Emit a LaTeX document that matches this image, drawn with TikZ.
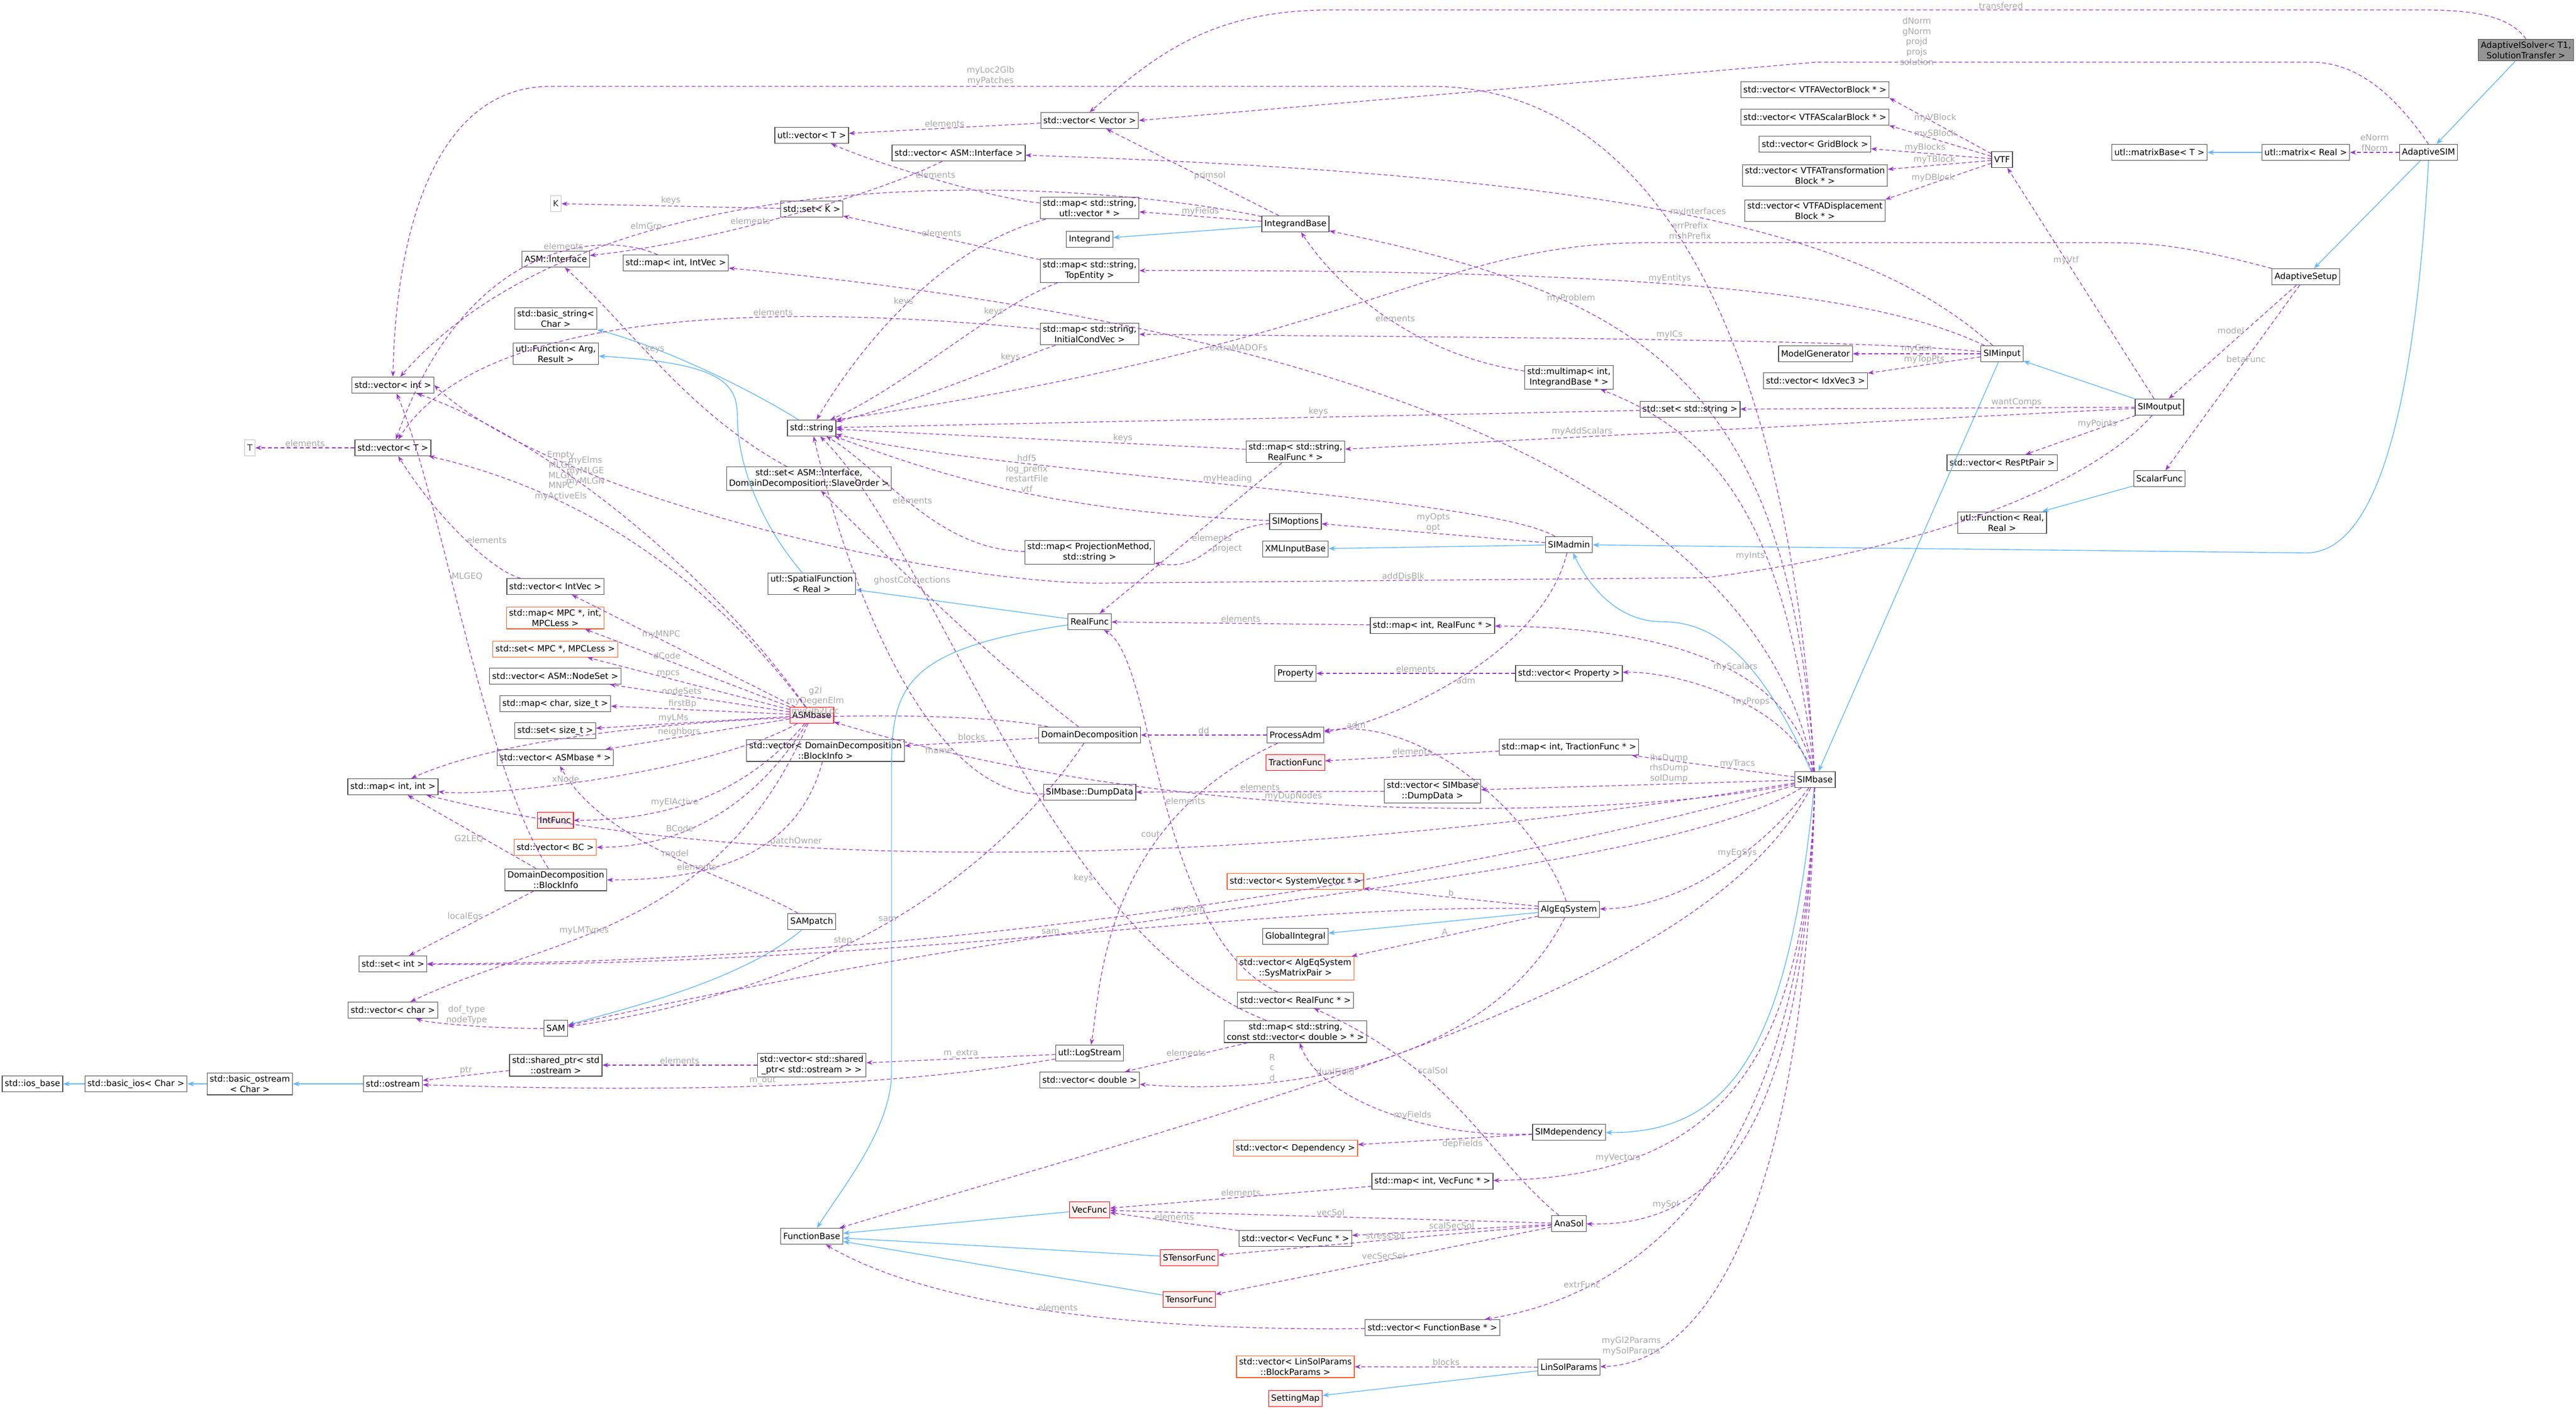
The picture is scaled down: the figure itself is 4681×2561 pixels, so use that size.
\documentclass[tikz,border=0pt]{standalone}
\usepackage{fontspec}
\setmainfont{DejaVu Sans}
\usetikzlibrary{arrows.meta}
\definecolor{mc}{HTML}{9A32CD}
\definecolor{ic}{HTML}{63B8FF}
\definecolor{lc}{HTML}{A8A8A8}
\definecolor{oc}{HTML}{FF5A1F}
\begin{document}
\begin{tikzpicture}[x=0.01cm,y=-0.01cm,
  every node/.style={font=\fontsize{4.4pt}{5.3pt}\selectfont},
  b/.style={draw=black!70,fill=white,line width=0.35pt,inner sep=1.3pt,minimum height=0.29cm,align=center},
  r/.style={b,draw=red,fill=red!6},
  o/.style={b,draw=oc},
  g/.style={b,draw=black!25,text=black!80},
  top/.style={b,fill=black!42},
  lab/.style={text=lc,align=center,inner sep=0.5pt,fill=none,draw=none},
  mem/.style={draw=mc,dashed,dash pattern=on 2pt off 1.3pt,line width=0.35pt,-{Stealth[length=0.11cm,width=0.08cm]}},
  inh/.style={draw=ic,line width=0.4pt,-{Stealth[length=0.12cm,width=0.09cm]}}]
\useasboundingbox (0,0) rectangle (4681,2561);
% ---------------- nodes ----------------
\node[top] (ais) at (4590,91) {AdaptiveISolver< T1,\\ SolutionTransfer >};
\node[b] (asim) at (4413,277) {AdaptiveSIM};
\node[b] (mat) at (4190,277) {utl::matrix< Real >};
\node[b] (matb) at (3924,277) {utl::matrixBase< T >};
\node[b] (aset) at (4190,503) {AdaptiveSetup};
\node[b] (vtf) at (3638,290) {VTF};
\node[b] (vvb) at (3298,163) {std::vector< VTFAVectorBlock * >};
\node[b] (vsb) at (3298,213) {std::vector< VTFAScalarBlock * >};
\node[b] (vgb) at (3298,262) {std::vector< GridBlock >};
\node[b] (vtb) at (3298,319) {std::vector< VTFATransformation\\ Block * >};
\node[b] (vdb) at (3298,383) {std::vector< VTFADisplacement\\ Block * >};
\node[b] (mgen) at (3299,643) {ModelGenerator};
\node[b] (simin) at (3638,643) {SIMinput};
\node[b] (vidx) at (3299,692) {std::vector< IdxVec3 >};
\node[b] (simout) at (3924,740) {SIMoutput};
\node[b] (vrpp) at (3638,841) {std::vector< ResPtPair >};
\node[b] (sfun) at (3924,870) {ScalarFunc};
\node[b] (frr) at (3638,950) {utl::Function< Real,\\ Real >};
\node[b] (simbase) at (3298,1417) {SIMbase};
\node[b] (simadm) at (2851,990) {SIMadmin};
\node[b] (xml) at (2354,998) {XMLInputBase};
\node[b] (simopt) at (2354,948) {SIMoptions};
\node[b] (mpm) at (1980,1004) {std::map< ProjectionMethod,\\ std::string >};
\node[b] (sdep) at (2851,2058) {SIMdependency};
\node[o] (vdep) at (2354,2087) {std::vector< Dependency >};
\node[b] (asol) at (2851,2224) {AnaSol};
\node[b] (lsp) at (2851,2485) {LinSolParams};
\node[o] (vbp) at (2354,2484) {std::vector< LinSolParams\\ ::BlockParams >};
\node[r] (smap) at (2354,2542) {SettingMap};
\node[b] (vfb) at (2603,2413) {std::vector< FunctionBase * >};
\node[b] (mvf) at (2603,2147) {std::map< int, VecFunc * >};
\node[b] (vvf) at (2354,2251) {std::vector< VecFunc * >};
\node[r] (vecf) at (1980,2199) {VecFunc};
\node[r] (stf) at (2161,2286) {STensorFunc};
\node[r] (tf) at (2161,2362) {TensorFunc};
\node[b] (fb) at (1475,2247) {FunctionBase};
\node[b] (vrf) at (2354,1818) {std::vector< RealFunc * >};
\node[b] (mscv) at (2354,1875) {std::map< std::string,\\ const std::vector< double > * >};
\node[b] (vdbl) at (1980,1963) {std::vector< double >};
\node[b] (logs) at (1980,1914) {utl::LogStream};
\node[b] (aeq) at (2851,1653) {AlgEqSystem};
\node[o] (vsv) at (2354,1602) {std::vector< SystemVector * >};
\node[b] (gi) at (2354,1702) {GlobalIntegral};
\node[o] (vsmp) at (2354,1760) {std::vector< AlgEqSystem\\ ::SysMatrixPair >};
\node[b] (mtf) at (2851,1358) {std::map< int, TractionFunc * >};
\node[r] (tfun) at (2354,1386) {TractionFunc};
\node[b] (vdd) at (2603,1438) {std::vector< SIMbase\\ ::DumpData >};
\node[b] (dump) at (1980,1440) {SIMbase::DumpData};
\node[b] (domd) at (1980,1336) {DomainDecomposition};
\node[b] (padm) at (2354,1336) {ProcessAdm};
\node[b] (vprop) at (2851,1224) {std::vector< Property >};
\node[b] (prop) at (2354,1224) {Property};
\node[b] (mirf) at (2603,1137) {std::map< int, RealFunc * >};
\node[b] (rf) at (1980,1130) {RealFunc};
\node[b] (msrf) at (2354,821) {std::map< std::string,\\ RealFunc * >};
\node[b] (sstr) at (3071,744) {std::set< std::string >};
\node[b] (mmib) at (2851,686) {std::multimap< int,\\ IntegrandBase * >};
\node[b] (mici) at (1980,607) {std::map< std::string,\\ InitialCondVec >};
\node[b] (mste) at (1980,492) {std::map< std::string,\\ TopEntity >};
\node[b] (integ) at (1980,435) {Integrand};
\node[b] (ib) at (2354,407) {IntegrandBase};
\node[b] (msuv) at (1980,378) {std::map< std::string,\\ utl::vector * >};
\node[b] (vai) at (1742,278) {std::vector< ASM::Interface >};
\node[b] (vvec) at (1980,219) {std::vector< Vector >};
\node[b] (uvt) at (1475,246) {utl::vector< T >};
\node[b] (setk) at (1475,380) {std::set< K >};
\node[g] (K) at (1010,370) {K};
\node[b] (asmi) at (1010,471) {ASM::Interface};
\node[b] (mivec) at (1228,478) {std::map< int, IntVec >};
\node[b] (bstr) at (1010,579) {std::basic\_string<\\ Char >};
\node[b] (ufar) at (1010,643) {utl::Function< Arg,\\ Result >};
\node[b] (str) at (1475,778) {std::string};
\node[b] (vint) at (714,700) {std::vector< int >};
\node[g] (T) at (454,814) {T};
\node[b] (vT) at (714,814) {std::vector< T >};
\node[b] (sasi) at (1470,870) {std::set< ASM::Interface,\\ DomainDecomposition::SlaveOrder >};
\node[b] (spf) at (1475,1061) {utl::SpatialFunction\\ < Real >};
\node[b] (vivec) at (1009,1066) {std::vector< IntVec >};
\node[o] (mmpc) at (1009,1123) {std::map< MPC *, int,\\ MPCLess >};
\node[o] (smpc) at (1009,1180) {std::set< MPC *, MPCLess >};
\node[b] (vns) at (1009,1229) {std::vector< ASM::NodeSet >};
\node[b] (mcs) at (1009,1279) {std::map< char, size\_t >};
\node[r] (asmb) at (1475,1300) {ASMbase};
\node[b] (ssz) at (1009,1328) {std::set< size\_t >};
\node[b] (vasm) at (1009,1377) {std::vector< ASMbase * >};
\node[b] (vbi) at (1500,1364) {std::vector< DomainDecomposition\\ ::BlockInfo >};
\node[b] (mii) at (714,1430) {std::map< int, int >};
\node[r] (ifun) at (1009,1491) {IntFunc};
\node[o] (vbc) at (1009,1540) {std::vector< BC >};
\node[b] (bi) at (1010,1599) {DomainDecomposition\\ ::BlockInfo};
\node[b] (samp) at (1475,1675) {SAMpatch};
\node[b] (sint) at (714,1752) {std::set< int >};
\node[b] (vchar) at (714,1836) {std::vector< char >};
\node[b] (sam) at (1010,1869) {SAM};
\node[b] (shp) at (1010,1936) {std::shared\_ptr< std\\ ::ostream >};
\node[b] (vshp) at (1475,1936) {std::vector< std::shared\\ \_ptr< std::ostream > >};
\node[b] (iosb) at (59,1970) {std::ios\_base};
\node[b] (bios) at (247,1970) {std::basic\_ios< Char >};
\node[b] (bos) at (454,1970) {std::basic\_ostream\\ < Char >};
\node[b] (ostr) at (714,1970) {std::ostream};
% ---------------- inheritance ----------------
\draw[inh] (ais) -- (asim);
\draw[inh] (asim) -- (aset);
\draw[inh] (asim.south) .. controls (4390,700) and (4330,1005) .. (4190,1005) -- (simadm);
\draw[inh] (mat) -- (matb);
\draw[inh] (simout) -- (simin);
\draw[inh] (simin) -- (simbase);
\draw[inh] (simbase) .. controls (3200,1200) and (3120,1130) .. (3020,1130) .. controls (2930,1130) and (2880,1050) .. (simadm);
\draw[inh] (simbase) .. controls (3250,1900) and (3150,2060) .. (sdep);
\draw[inh] (simadm) -- (xml);
\draw[inh] (sfun) -- (frr);
\draw[inh] (ib) -- (integ);
\draw[inh] (aeq) -- (gi);
\draw[inh] (lsp) -- (smap);
\draw[inh] (rf) -- (spf);
\draw[inh] (rf) .. controls (1640,1180) and (1620,1250) .. (1620,1400) -- (1620,1950) .. controls (1620,2050) and (1530,2160) .. (fb);
\draw[inh] (spf) .. controls (1380,950) and (1340,840) .. (1340,760) .. controls (1340,700) and (1320,660) .. (ufar);
\draw[inh] (str) .. controls (1350,700) and (1200,630) .. (bstr);
\draw[inh] (samp) .. controls (1350,1780) and (1150,1830) .. (sam);
\draw[inh] (ostr) -- (bos);
\draw[inh] (bos) -- (bios);
\draw[inh] (bios) -- (iosb);
\draw[inh] (vecf) -- (fb);
\draw[inh] (stf) -- (fb);
\draw[inh] (tf) -- (fb);
% ---------------- members ----------------
\draw[mem] (ais.north) .. controls (4560,30) and (4500,18) .. (4400,18) -- (2420,18) .. controls (2200,18) and (2100,100) .. node[lab,pos=0]{} (vvec.north);
\node[lab] at (3636,11) {transfered};
\draw[mem] (asim.north) .. controls (4370,200) and (4300,113) .. (4200,113) -- (3300,113) -- (vvec.east);
\node[lab] at (3483,75) {dNorm\\gNorm\\projd\\projs\\solution};
\draw[mem] (asim) -- node[lab,above]{eNorm\\fNorm} (mat);
\draw[mem] (vtf) -- node[lab,pos=0.55,above]{myVBlock} (vvb.south east);
\draw[mem] (vtf) -- node[lab,pos=0.55,above]{mySBlock} (vsb.south east);
\draw[mem] (vtf) -- node[lab,pos=0.55,above]{myBlocks} (vgb);
\draw[mem] (vtf) -- node[lab,pos=0.55,above]{myTBlock} (vtb);
\draw[mem] (vtf) -- node[lab,pos=0.55,above]{myDBlock} (vdb.north east);
\draw[mem] (simout) -- node[lab,pos=0.6]{myVtf} (vtf);
\draw[mem] (aset) -- node[lab,pos=0.4,left]{model} (simout);
\draw[mem] (aset) -- node[lab,pos=0.4]{betaFunc} (sfun);
\draw[mem] (aset.north west) .. controls (3950,441) and (3900,441) .. (3800,441) -- (3000,441) .. controls (2600,441) and (2500,620) .. (str.north east);
\node[lab] at (3071,419) {errPrefix\\mshPrefix};
\draw[mem] (simin) -- node[lab,above]{myGen} (mgen);
\draw[mem] (simin) -- node[lab,above]{myTopPts} (vidx);
\draw[mem] (simout) -- node[lab,above,pos=0.3]{wantComps} (sstr);
\draw[mem] (simout) -- node[lab,above,pos=0.7]{myAddScalars} (msrf);
\draw[mem] (simout) -- node[lab,above,pos=0.35]{myPoints} (vrpp);
\draw[mem] (simout) .. controls (3800,880) and (3500,1000) .. (3100,1050) -- node[lab,above]{addDisBlk} (2000,1060) .. controls (1700,1060) and (1000,900) .. (vint.east);
\draw[mem] (simin) .. controls (3400,430) and (3000,320) .. node[lab,pos=0.5,above]{myInterfaces} (vai);
\draw[mem] (simin) .. controls (3400,530) and (3000,490) .. node[lab,pos=0.55,above]{myEntitys} (mste);
\draw[mem] (simin) .. controls (3400,620) and (3000,615) .. node[lab,pos=0.55,above]{myICs} (mici);
\draw[mem] (simbase) .. controls (3250,700) and (3000,540) .. node[lab,pos=0.7,above]{myProblem} (ib);
\draw[mem] (simbase) .. controls (3250,1000) and (3150,800) .. node[lab,pos=0.4,left]{myInts} (mmib);
\draw[mem] (simbase) .. controls (3250,1200) and (3000,1140) .. node[lab,pos=0.4,above]{myScalars} (mirf);
\draw[mem] (simbase) .. controls (3250,1280) and (3050,1220) .. node[lab,pos=0.4,above]{myProps} (vprop);
\draw[mem] (simbase) -- node[lab,above,pos=0.35]{myTracs} (mtf);
\draw[mem] (simbase) -- node[lab,above,pos=0.4]{lhsDump\\rhsDump\\solDump} (vdd);
\draw[mem] (simbase) .. controls (3200,1550) and (3050,1650) .. node[lab,pos=0.4,above]{myEqSys} (aeq);
\draw[mem] (simbase) .. controls (3280,1900) and (3150,2140) .. node[lab,pos=0.8,above]{myVectors} (mvf);
\draw[mem] (simbase) .. controls (3280,2000) and (3150,2230) .. node[lab,pos=0.8,above]{mySol} (asol);
\draw[mem] (simbase) .. controls (3280,2100) and (3000,2350) .. node[lab,pos=0.8,above]{extrFunc} (vfb);
\draw[mem] (simbase) .. controls (3280,2200) and (3100,2480) .. node[lab,pos=0.8,left]{myGl2Params\\mySolParams} (lsp);
\draw[mem] (simbase) .. controls (3100,1800) and (2300,2000) .. node[lab,pos=0.6,above]{dualField} (fb);
\draw[mem] (simbase) .. controls (3000,1600) and (2000,1640) .. node[lab,pos=0.6,above]{mySam} (sam);
\draw[mem] (simbase) .. controls (2800,1500) and (1600,1650) .. node[lab,pos=0.75,above]{patchOwner} (mii);
\draw[mem] (simbase) .. controls (2800,1560) and (1800,1750) .. node[lab,pos=0.75,above]{step} (sint);
\draw[mem] (simbase) .. controls (3000,1480) and (2200,1520) .. node[lab,pos=0.6,above]{myDupNodes} (asmb);
\draw[mem] (simbase) .. controls (3250,600) and (3000,157) .. (2600,157) -- node[lab,above]{myLoc2Glb\\myPatches} (1000,157) .. controls (800,157) and (720,400) .. (vint.north);
\draw[mem] (simbase) .. controls (3200,900) and (2500,600) .. node[lab,pos=0.7,above]{extraMADOFs} (mivec);
\draw[mem] (simadm) .. controls (2700,900) and (1800,860) .. node[lab,pos=0.5,above]{myHeading} (str);
\draw[mem] (simadm) -- node[lab,above]{myOpts\\opt} (simopt);
\draw[mem] (simadm) .. controls (2800,1200) and (2500,1320) .. node[lab,pos=0.5,right]{adm} (padm);
\draw[mem] (simopt) .. controls (1900,930) and (1700,860) .. node[lab,pos=0.45,above]{hdf5\\log\_prefix\\restartFile\\vtf} (str);
\draw[mem] (simopt) .. controls (2200,960) and (2200,1040) .. node[lab,pos=0.5,right]{project} (mpm);
\draw[mem] (mpm) .. controls (1700,1000) and (1600,850) .. node[lab,pos=0.5,above]{elements} (str);
\draw[mem] (padm) -- node[lab,above]{dd} (domd);
\draw[mem] (padm) .. controls (2000,1500) and (2000,1800) .. node[lab,pos=0.3,left]{cout} (logs);
\draw[mem] (domd) -- node[lab,above]{blocks} (vbi);
\draw[mem] (domd) .. controls (1800,1200) and (1600,1000) .. node[lab,pos=0.6]{ghostConnections} (sasi);
\draw[mem] (domd) .. controls (1700,1280) and (1000,1300) .. node[lab,pos=0.4,above]{g2l\\myDegenElm\\myGlb2Loc} (mii);
\draw[mem] (domd) .. controls (1800,1600) and (1500,1800) .. node[lab,pos=0.5,above]{sam} (sam);
\draw[mem] (vbi) .. controls (1450,1550) and (1300,1600) .. node[lab,pos=0.7,above]{elements} (bi);
\draw[mem] (bi) -- node[lab,pos=0.4,left]{localEqs} (sint);
\draw[mem] (bi) -- node[lab,pos=0.4,left]{G2LEQ} (mii);
\draw[mem] (bi) .. controls (880,1400) and (800,900) .. node[lab,pos=0.6,right]{MLGEQ} (vint);
\draw[mem] (dump) .. controls (1700,1450) and (1550,1100) .. node[lab,pos=0.3,left]{fname} (str);
\draw[mem] (vdd) -- node[lab,above]{elements} (dump);
\draw[mem] (aeq) -- node[lab,above]{b} (vsv);
\draw[mem] (aeq) -- node[lab,above]{A} (vsmp);
\draw[mem] (aeq) .. controls (2800,1500) and (2600,1300) .. node[lab,pos=0.9,above]{adm} (padm);
\draw[mem] (aeq) .. controls (2700,1950) and (2300,1990) .. node[lab,pos=0.7,above]{R\\c\\d} (vdbl);
\draw[mem] (aeq) .. controls (2300,1640) and (1600,1760) .. node[lab,pos=0.5,above]{sam} (sint);
\draw[mem] (samp) .. controls (1350,1600) and (1100,1540) .. node[lab,pos=0.5,above]{model} (vasm);
\draw[mem] (sam) .. controls (900,1870) and (780,1860) .. node[lab,above]{dof\_type\\nodeType} (vchar);
\draw[mem] (asmb) -- node[lab,above,pos=0.6]{myMNPC} (vivec);
\draw[mem] (asmb) -- node[lab,above,pos=0.6]{dCode} (mmpc);
\draw[mem] (asmb) -- node[lab,above,pos=0.6]{mpcs} (smpc);
\draw[mem] (asmb) -- node[lab,above,pos=0.6]{nodeSets} (vns);
\draw[mem] (asmb) -- node[lab,above,pos=0.6]{firstBp} (mcs);
\draw[mem] (asmb) -- node[lab,above,pos=0.6]{myLMs} (ssz);
\draw[mem] (asmb) -- node[lab,above,pos=0.6]{neighbors} (vasm);
\draw[mem] (asmb) .. controls (1300,1400) and (900,1450) .. node[lab,pos=0.6,above]{xNode} (mii);
\draw[mem] (asmb) .. controls (1350,1450) and (1200,1491) .. node[lab,pos=0.6,above]{myElActive} (ifun);
\draw[mem] (asmb) .. controls (1350,1500) and (1200,1540) .. node[lab,pos=0.6,above]{BCode} (vbc);
\draw[mem] (asmb) .. controls (1300,1700) and (1000,1700) .. node[lab,pos=0.6,above]{myLMTypes} (vchar);
\draw[mem] (asmb) .. controls (1300,1050) and (1000,800) .. node[lab,pos=0.6,above]{myElms\\myMLGE\\myMLGN} (vint);
\draw[mem] (asmb) .. controls (1250,1000) and (1000,880) .. node[lab,pos=0.65,above]{Empty\\MLGE\\MLGN\\MNPC\\myActiveEls} (vT);
\draw[mem] (vivec) .. controls (900,1040) and (800,950) .. node[lab,pos=0.5,right]{elements} (vT);
\draw[mem] (vT) -- node[lab,above]{elements} (T);
\draw[mem] (vvec) -- node[lab,above]{elements} (uvt);
\draw[mem] (msuv) .. controls (1800,360) and (1600,300) .. node[lab,pos=0.5,above]{elements} (uvt);
\draw[mem] (msuv) .. controls (1700,450) and (1550,650) .. node[lab,pos=0.5,above]{keys} (str);
\draw[mem] (setk) -- node[lab,above]{keys} (K);
\draw[mem] (vai) .. controls (1600,350) and (1300,440) .. node[lab,pos=0.6,above]{elements} (asmi);
\draw[mem] (sasi) .. controls (1250,750) and (1150,600) .. node[lab,pos=0.6,right]{keys} (asmi);
\draw[mem] (mivec) .. controls (1100,420) and (850,430) .. node[lab,pos=0.4,above]{elements} (vT);
\draw[mem] (mste) .. controls (1800,560) and (1650,700) .. node[lab,pos=0.3,above]{keys} (str);
\draw[mem] (mste) -- node[lab,above,pos=0.5]{elements} (setk);
\draw[mem] (mici) .. controls (1850,650) and (1700,720) .. node[lab,pos=0.3,above]{keys} (str);
\draw[mem] (mici) .. controls (1600,570) and (900,520) .. node[lab,pos=0.4,above]{elements} (vT);
\draw[mem] (msrf) -- node[lab,above,pos=0.3]{keys} (str);
\draw[mem] (msrf) -- node[lab,pos=0.5,right]{elements} (rf);
\draw[mem] (sstr) -- node[lab,above,pos=0.4]{keys} (str);
\draw[mem] (mirf) -- node[lab,above]{elements} (rf);
\draw[mem] (vprop) -- node[lab,above]{elements} (prop);
\draw[mem] (mtf) -- node[lab,above]{elements} (tfun);
\draw[mem] (mmib) .. controls (2600,650) and (2450,550) .. node[lab,pos=0.5,above]{elements} (ib);
\draw[mem] (ib) -- node[lab,above,pos=0.4]{primsol} (vvec);
\draw[mem] (ib) -- node[lab,above]{myFields} (msuv);
\draw[mem] (ib) .. controls (2000,330) and (1100,260) .. node[lab,pos=0.7,above]{elmGrp} (vint);
\draw[mem] (mscv) .. controls (1900,1700) and (1700,1000) .. node[lab,pos=0.3,left]{keys} (str);
\draw[mem] (mscv) -- node[lab,above]{elements} (vdbl);
\draw[mem] (logs) -- node[lab,above]{m\_extra} (vshp);
\draw[mem] (logs) .. controls (1600,1980) and (1200,1985) .. node[lab,pos=0.5,above]{m\_out} (ostr);
\draw[mem] (vshp) -- node[lab,above]{elements} (shp);
\draw[mem] (shp) -- node[lab,above]{ptr} (ostr);
\draw[mem] (vrf) .. controls (2100,1700) and (2100,1200) .. node[lab,pos=0.5,right]{elements} (rf);
\draw[mem] (sdep) .. controls (2600,2070) and (2400,2000) .. node[lab,pos=0.4,above]{myFields} (mscv);
\draw[mem] (sdep) -- node[lab,below,pos=0.4]{depFields} (vdep);
\draw[mem] (mvf) -- node[lab,above]{elements} (vecf);
\draw[mem] (asol) -- node[lab,above,pos=0.5]{vecSol} (vecf);
\draw[mem] (asol) -- node[lab,above,pos=0.5]{scalSecSol} (vvf);
\draw[mem] (asol) -- node[lab,above,pos=0.5]{stressSol} (stf);
\draw[mem] (asol) -- node[lab,above,pos=0.5]{vecSecSol} (tf);
\draw[mem] (asol) .. controls (2700,2100) and (2650,1950) .. node[lab,pos=0.7,right]{scalSol} (vrf);
\draw[mem] (vvf) -- node[lab,above]{elements} (vecf);
\draw[mem] (vfb) .. controls (2100,2420) and (1700,2380) .. node[lab,pos=0.5,above]{elements} (fb);
\draw[mem] (lsp) -- node[lab,above]{blocks} (vbp);
\end{tikzpicture}
\end{document}
